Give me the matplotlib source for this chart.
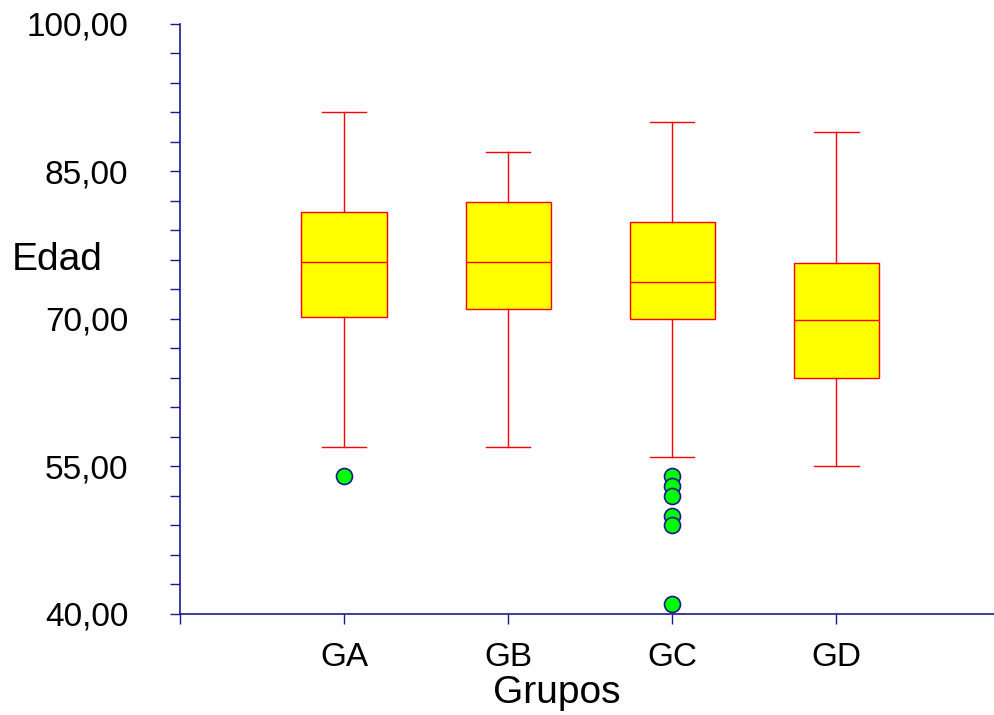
import numpy as np
import matplotlib.pyplot as plt
from matplotlib.ticker import FixedLocator, FuncFormatter

plt.rcParams['font.family'] = ['Liberation Sans', 'DejaVu Sans']

# Box plot summaries
groups = ["GA", "GB", "GC", "GD"]
whislo = [57, 57, 56, 55]
q1 = [70.2, 71, 70, 64]
med = [75.8, 75.8, 73.8, 69.9]
q3 = [80.9, 81.9, 79.9, 75.7]
whishi = [91, 87, 90, 89]
fliers = [[54], [], [54, 53, 52, 50, 49, 41], []]

yticks = [40, 55, 70, 85, 100]

navy = "#1a1a8c"

def main():
    fig = plt.figure(figsize=(9.94, 7.15), dpi=100)
    ax = fig.add_axes([180 / 994, 1 - 614 / 715, 1 - 180 / 994, 590 / 715])

    stats = []
    for i, g in enumerate(groups):
        stats.append(dict(label=g, whislo=whislo[i], q1=q1[i], med=med[i],
                          q3=q3[i], whishi=whishi[i], fliers=fliers[i]))

    ax.bxp(stats, positions=[1, 2, 3, 4], widths=0.52, patch_artist=True,
           boxprops=dict(facecolor="#ffff00", edgecolor="#ff0000", linewidth=1),
           medianprops=dict(color="#ff0000", linewidth=1),
           whiskerprops=dict(color="#ff0000", linewidth=1),
           capprops=dict(color="#ff0000", linewidth=1),
           capwidths=0.27,
           flierprops=dict(marker="o", markerfacecolor="#00ff00",
                           markeredgecolor=navy, markersize=11.5,
                           markeredgewidth=1.2, linestyle="none"))

    ax.set_xlim(0, 4.96)
    ax.set_ylim(40, 100)
    ax.set_xticks([0, 1, 2, 3, 4])
    ax.set_xticklabels(["", "GA", "GB", "GC", "GD"])

    ax.yaxis.set_major_locator(FixedLocator(yticks))
    ax.yaxis.set_minor_locator(FixedLocator(np.arange(40, 101, 3)))
    ax.yaxis.set_major_formatter(FuncFormatter(lambda v, p: f"{v:.2f}".replace(".", ",")))

    for s in ["top", "right"]:
        ax.spines[s].set_visible(False)
    for s in ["left", "bottom"]:
        ax.spines[s].set_color(navy)
        ax.spines[s].set_linewidth(1.2)

    ax.tick_params(axis="y", which="both", direction="out", length=7.2,
                   color=navy, width=1, labelsize=24, pad=30)
    ax.tick_params(axis="x", direction="out", length=7.2, color=navy,
                   width=1, labelsize=24, pad=13)

    fig.text(12 / 994, 1 - 260 / 715, "Edad", fontsize=28, va="center", ha="left")
    fig.text(557 / 994, 1 - 693 / 715, "Grupos", fontsize=28, va="center", ha="center")

    fig.savefig("out.png", dpi=100)

if __name__ == "__main__":
    main()
